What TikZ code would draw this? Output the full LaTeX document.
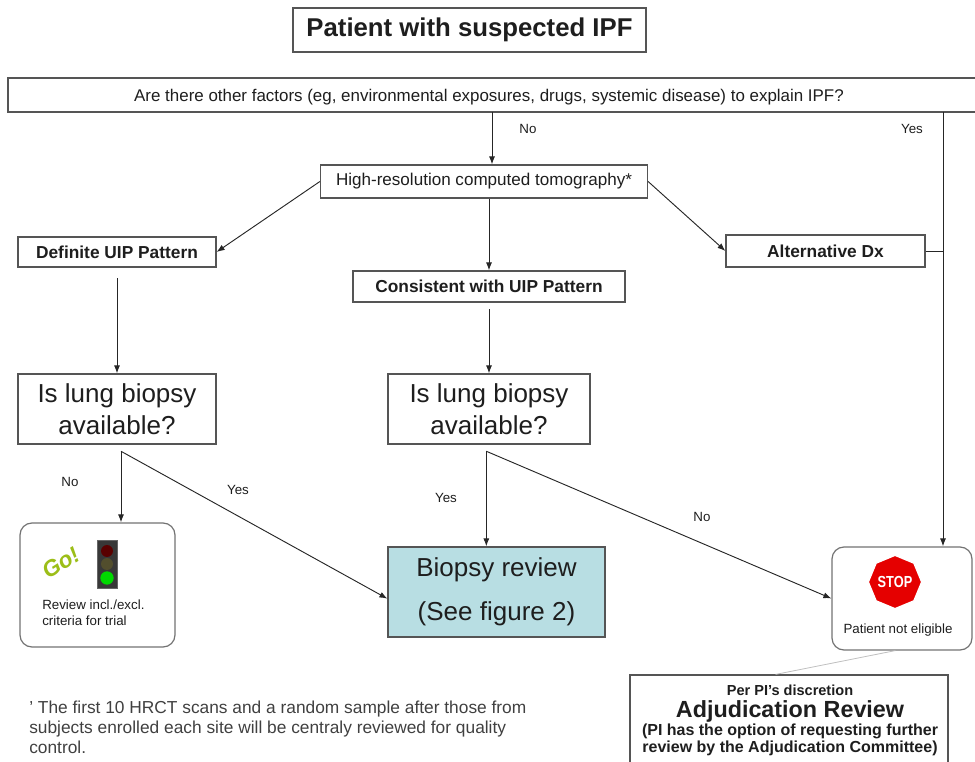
\documentclass[tikz,border=0pt]{standalone}
\usepackage{fontspec}
\setmainfont{Liberation Sans}
\usetikzlibrary{shapes.geometric,arrows.meta}
\definecolor{boxline}{HTML}{555555}
\definecolor{txt}{HTML}{1E1E1E}
\definecolor{biofill}{HTML}{B8DEE3}
\definecolor{gogreen}{HTML}{9CBE18}
\begin{document}
\begin{tikzpicture}[x=0.75pt,y=-0.75pt,
  box/.style={draw=boxline, line width=0.9pt, fill=white, text=txt, inner sep=0pt, align=center},
  rbox/.style={box, rounded corners=9pt, draw=black!55},
  arr/.style={draw=black!85, line width=0.7pt, -{Latex[length=6pt,width=4.5pt]}},
  conn/.style={draw=black!85, line width=0.7pt},
  lbl/.style={font=\fontsize{10}{12}\selectfont, text=txt, inner sep=0pt},
  small/.style={font=\fontsize{10}{12}\selectfont, text=txt, inner sep=0pt}]
\useasboundingbox (0,0) rectangle (975,762);

% title
\node[box, minimum width=264.75pt, minimum height=33pt, font=\fontsize{19.3}{22}\bfseries] (title) at (469.5,30) {Patient with suspected IPF};

% question
\node[box, minimum width=736.5pt, minimum height=25.5pt] (q) at (499,95) {};
\node[font=\fontsize{12.7}{14}\selectfont, text=txt, inner sep=0pt] (qt) at (489,97) {Are there other factors (eg, environmental exposures, drugs, systemic disease) to explain IPF?};

% HRCT
\node[box, minimum width=245.25pt, minimum height=24.75pt, font=\fontsize{12.8}{14}\selectfont] (hr) at (484,181.5) {High-resolution computed tomography*};

% patterns
\node[box, minimum width=148.5pt, minimum height=22.5pt, font=\fontsize{13}{14}\bfseries] (def) at (117,252) {Definite UIP Pattern};
\node[box, minimum width=204pt, minimum height=23.25pt, font=\fontsize{13}{14}\bfseries] (con) at (489,286.5) {Consistent with UIP Pattern};
\node[box, minimum width=149.25pt, minimum height=24pt, font=\fontsize{13}{14}\bfseries] (alt) at (825.5,251) {Alternative Dx};

% lung biopsy
\node[box, minimum width=148.5pt, minimum height=52.5pt, font=\fontsize{19.5}{24}\selectfont] (lungL) at (117,409) {Is lung biopsy\\available?};
\node[box, minimum width=151.5pt, minimum height=52.5pt, font=\fontsize{19.5}{24}\selectfont] (lungR) at (489,409) {Is lung biopsy\\available?};

% outcomes
\node[rbox, minimum width=116.25pt, minimum height=93pt] (go) at (97.5,585) {};
\node[box, fill=biofill, minimum width=162.75pt, minimum height=67.5pt, font=\fontsize{19.5}{33}\selectfont] (bio) at (496.5,592) {Biopsy review\\(See figure 2)};
\node[rbox, minimum width=105pt, minimum height=77.25pt] (stop) at (902,598.5) {};
\node[box, minimum width=238.5pt, minimum height=75pt] (adj) at (789,725) {};

% Go box contents
\node[font=\fontsize{17}{18}\bfseries\itshape, text=gogreen, rotate=32, inner sep=0pt] (gotext) at (61,563) {Go!};
\node[fill=black!78, draw=black!60, minimum width=15pt, minimum height=36pt, inner sep=0pt] (light) at (107,564) {};
\node[circle, fill=red!35!black, minimum size=9pt, inner sep=0pt] (lred) at (107,551) {};
\node[circle, fill=olive!45!black, minimum size=9pt, inner sep=0pt] (lyel) at (107,564) {};
\node[circle, fill=green!85!black, minimum size=10pt, inner sep=0pt] (lgrn) at (107,578) {};
\node[small, align=left, anchor=north west] (gotxt) at (42,600) {Review incl./excl.\\criteria for trial};

% Stop box contents
\node[regular polygon, regular polygon sides=8, shape border rotate=22.5, fill=red!90!black, draw=white, line width=1pt, minimum size=40pt, inner sep=0pt] (octa) at (895,582) {};
\node[font=\fontsize{12}{12}\bfseries, text=white, inner sep=0pt, xscale=0.8] (stoptxt) at (895,582) {STOP};
\node[small] (nel) at (898,630) {Patient not eligible};

% Adjudication contents
\node[font=\fontsize{10.9}{12}\bfseries, text=txt, inner sep=0pt] (adj1) at (790,690) {Per PI's discretion};
\node[font=\fontsize{17.5}{20}\bfseries, text=txt, inner sep=0pt] (adj2) at (790,711) {Adjudication Review};
\node[font=\fontsize{12}{12.5}\bfseries, text=txt, inner sep=0pt, align=center, anchor=north] (adj3) at (790,724) {(PI has the option of requesting further\\review by the Adjudication Committee)};

% footnote
\node[font=\fontsize{13}{15}\selectfont, text=black!75, inner sep=0pt, align=left, anchor=north west] (foot) at (29,701) {' The first 10 HRCT scans and a random sample after those from\\subjects enrolled each site will be centraly reviewed for quality\\control.};

% connectors
\coordinate (qn) at (492,112);
\coordinate (qy) at (943,112);
\draw[arr] (qn) -- (qn |- hr.north);
\draw[arr] (qy) -- (qy |- stop.north);
\draw[conn] (alt.east) -- (alt.east -| qy);
\draw[arr] (hr.west) -- (def.east);
\draw[arr] (hr.east) -- (alt.west);
\draw[arr] (con.north |- hr.south) -- (con.north);
\draw[arr] ([yshift=-8pt]def.south -| lungL.north) -- (lungL.north);
\draw[arr] ([yshift=-5pt]con.south) -- (lungR.north);
\coordinate (lLb) at ([xshift=3pt,yshift=-5pt]lungL.south);
\coordinate (lRb) at ([xshift=-2pt,yshift=-5pt]lungR.south);
\draw[arr] (lLb) -- (lLb |- go.north);
\draw[arr] (lLb) -- ([yshift=-5pt]bio.west);
\draw[arr] (lRb) -- (lRb |- bio.north);
\draw[arr] (lRb) -- (stop.west);
\draw[black!25, line width=0.6pt] ([xshift=-5pt]stop.south) -- ([xshift=-10pt]adj.north);

% labels
\node[lbl] (lno1) at (528,129) {No};
\node[lbl] (lyes1) at (912,129) {Yes};
\node[lbl] (lno2) at (70,482) {No};
\node[lbl] (lyes2) at (238,490) {Yes};
\node[lbl] (lyes3) at (446,498) {Yes};
\node[lbl] (lno3) at (702,517) {No};
\end{tikzpicture}
\end{document}
